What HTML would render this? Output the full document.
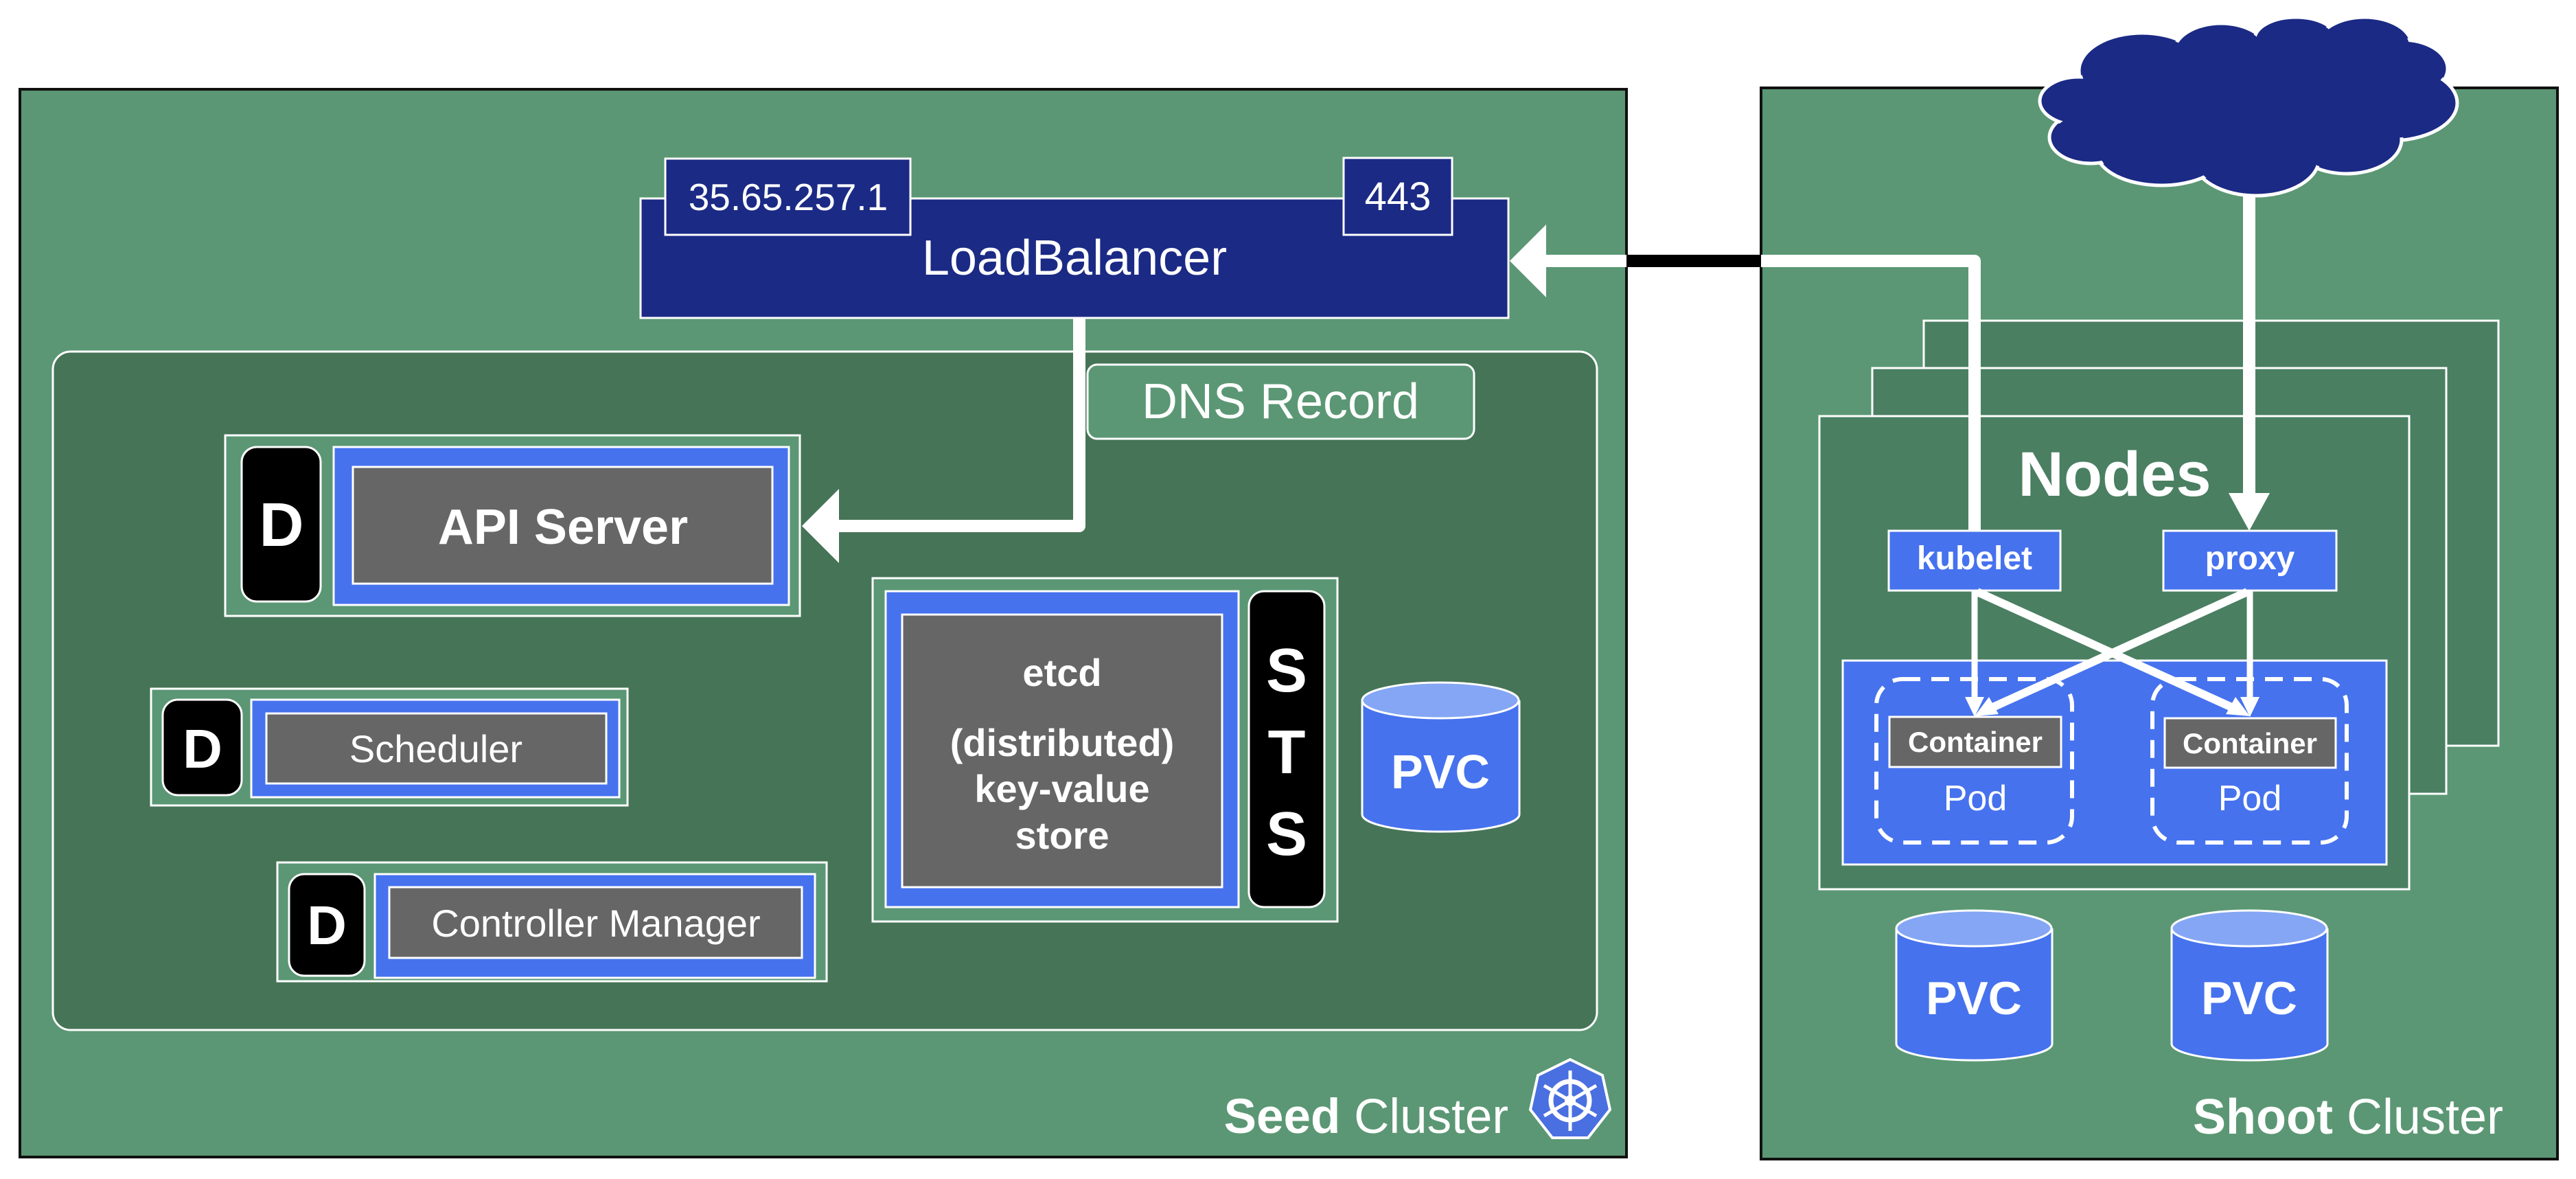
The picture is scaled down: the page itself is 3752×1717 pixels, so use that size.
<!DOCTYPE html>
<html><head><meta charset="utf-8"><style>
html,body{margin:0;padding:0;background:#fff}
svg{display:block}
text{font-family:"Liberation Sans",Arial,sans-serif;fill:#fff}
</style></head><body>
<svg width="3752" height="1717" viewBox="0 0 3752 1717" xmlns="http://www.w3.org/2000/svg">
<!-- Seed cluster -->
<rect x="29" y="130" width="2340" height="1555" fill="#5b9774" stroke="#111" stroke-width="4"/>
<!-- inner -->
<rect x="77" y="512" width="2249" height="988" rx="26" fill="#467457" stroke="#fff" stroke-width="3"/>
<!-- LB -->
<rect x="933" y="289" width="1264" height="174" fill="#1b2a84" stroke="#fff" stroke-width="3"/>
<rect x="969" y="231" width="357" height="111" fill="#1b2a84" stroke="#fff" stroke-width="3"/>
<rect x="1957" y="230" width="158" height="112" fill="#1b2a84" stroke="#fff" stroke-width="3"/>
<text x="1148" y="306" font-size="55" text-anchor="middle">35.65.257.1</text>
<text x="2036" y="306" font-size="58" text-anchor="middle">443</text>
<text x="1565" y="400" font-size="72" text-anchor="middle">LoadBalancer</text>
<!-- DNS -->
<rect x="1584" y="531" width="563" height="108" rx="14" fill="#5b9774" stroke="#fff" stroke-width="3"/>
<text x="1865" y="609" font-size="72" text-anchor="middle">DNS Record</text>
<!-- LB -> API line -->
<polyline points="1572,463 1572,766 1215,766" fill="none" stroke="#fff" stroke-width="18" stroke-linejoin="round"/>
<polygon points="1168,766 1222,712 1222,820" fill="#fff"/>
<!-- API Server -->
<rect x="328" y="634" width="837" height="263" fill="#5b9774" stroke="#fff" stroke-width="3"/>
<rect x="352" y="651" width="115" height="225" rx="22" fill="#000" stroke="#fff" stroke-width="3"/>
<text x="410" y="795" font-size="90" font-weight="bold" text-anchor="middle">D</text>
<rect x="486" y="651" width="663" height="230" fill="#4672ee" stroke="#fff" stroke-width="3"/>
<rect x="514" y="680" width="611" height="170" fill="#666" stroke="#fff" stroke-width="3"/>
<text x="820" y="792" font-size="72" font-weight="bold" text-anchor="middle">API Server</text>
<!-- Scheduler -->
<rect x="220" y="1003" width="694" height="170" fill="#5b9774" stroke="#fff" stroke-width="3"/>
<rect x="237" y="1019" width="115" height="139" rx="22" fill="#000" stroke="#fff" stroke-width="3"/>
<text x="295" y="1118" font-size="80" font-weight="bold" text-anchor="middle">D</text>
<rect x="366" y="1019" width="536" height="142" fill="#4672ee" stroke="#fff" stroke-width="3"/>
<rect x="388" y="1039" width="495" height="102" fill="#666" stroke="#fff" stroke-width="3"/>
<text x="635" y="1110" font-size="56" text-anchor="middle">Scheduler</text>
<!-- Controller Manager -->
<rect x="404" y="1256" width="800" height="173" fill="#5b9774" stroke="#fff" stroke-width="3"/>
<rect x="421" y="1273" width="110" height="148" rx="22" fill="#000" stroke="#fff" stroke-width="3"/>
<text x="476" y="1375" font-size="80" font-weight="bold" text-anchor="middle">D</text>
<rect x="546" y="1273" width="641" height="151" fill="#4672ee" stroke="#fff" stroke-width="3"/>
<rect x="567" y="1292" width="601" height="103" fill="#666" stroke="#fff" stroke-width="3"/>
<text x="868" y="1364" font-size="56" text-anchor="middle">Controller Manager</text>
<!-- etcd -->
<rect x="1271" y="842" width="677" height="500" fill="#5b9774" stroke="#fff" stroke-width="3"/>
<rect x="1290" y="861" width="514" height="460" fill="#4672ee" stroke="#fff" stroke-width="3"/>
<rect x="1314" y="895" width="466" height="397" fill="#666" stroke="#fff" stroke-width="3"/>
<g font-size="56" font-weight="bold" text-anchor="middle">
<text x="1547" y="999">etcd</text>
<text x="1547" y="1101">(distributed)</text>
<text x="1547" y="1168">key-value</text>
<text x="1547" y="1236">store</text>
</g>
<rect x="1819" y="861" width="110" height="460" rx="22" fill="#000" stroke="#fff" stroke-width="3"/>
<g font-size="90" font-weight="bold" text-anchor="middle">
<text x="1874" y="1007">S</text>
<text x="1874" y="1126">T</text>
<text x="1874" y="1245">S</text>
</g>
<!-- seed PVC -->
<path d="M1984,1020 V1186 A114,25 0 0 0 2213,1186 V1020" fill="#4672ee" stroke="#fff" stroke-width="3"/>
<ellipse cx="2098" cy="1020" rx="114" ry="26" fill="#84a6f4" stroke="#fff" stroke-width="3"/>
<text x="2098" y="1148" font-size="70" font-weight="bold" text-anchor="middle">PVC</text>
<!-- Seed Cluster label -->
<text x="2197" y="1650" font-size="71" text-anchor="end"><tspan font-weight="bold">Seed</tspan> Cluster</text>
<g transform="translate(2287,1603)">
<polygon points="0,-60 47,-37 58,13 26,54 -26,54 -58,13 -47,-37" fill="#4a6fe0" stroke="#fff" stroke-width="4"/>
<circle r="28" fill="none" stroke="#fff" stroke-width="7"/>
<g stroke="#fff" stroke-width="5">
<line x1="0" y1="-44" x2="0" y2="44"/><line x1="-38" y1="-22" x2="38" y2="22"/><line x1="-38" y1="22" x2="38" y2="-22"/>
</g>
<circle r="8" fill="#fff"/>
</g>

<!-- Shoot cluster -->
<rect x="2565" y="128" width="1160" height="1560" fill="#5b9774" stroke="#111" stroke-width="4"/>
<!-- connector LB <- kubelet -->
<line x1="2369" y1="380" x2="2565" y2="380" stroke="#000" stroke-width="18"/>
<polyline points="2565,380 2876,380 2876,773" fill="none" stroke="#fff" stroke-width="18" stroke-linejoin="round"/>
<line x1="2245" y1="380" x2="2369" y2="380" stroke="#fff" stroke-width="18"/>
<polygon points="2199,380 2252,327 2252,433" fill="#fff"/>
<!-- node stacks -->
<rect x="2802" y="467" width="837" height="619" fill="#4a7f62" stroke="#fff" stroke-width="3"/>
<rect x="2727" y="536" width="836" height="620" fill="#4a7f62" stroke="#fff" stroke-width="3"/>
<rect x="2650" y="606" width="859" height="689" fill="#4a7f62" stroke="#fff" stroke-width="3"/>
<line x1="2876" y1="380" x2="2876" y2="773" stroke="#fff" stroke-width="18"/>
<text x="3080" y="722" font-size="92" font-weight="bold" text-anchor="middle">Nodes</text>
<!-- pods area -->
<rect x="2684" y="962" width="792" height="297" fill="#4672ee" stroke="#fff" stroke-width="3"/>
<rect x="2733" y="989" width="285" height="238" rx="38" fill="none" stroke="#fff" stroke-width="6" stroke-dasharray="26,16"/>
<rect x="3135" y="989" width="283" height="238" rx="38" fill="none" stroke="#fff" stroke-width="6" stroke-dasharray="26,16"/>
<rect x="2752" y="1044" width="250" height="73" fill="#666" stroke="#fff" stroke-width="3"/>
<rect x="3153" y="1046" width="249" height="72" fill="#666" stroke="#fff" stroke-width="3"/>
<text x="2877" y="1095" font-size="42" font-weight="bold" text-anchor="middle">Container</text>
<text x="3277" y="1097" font-size="42" font-weight="bold" text-anchor="middle">Container</text>
<text x="2877" y="1180" font-size="52" text-anchor="middle">Pod</text>
<text x="3277" y="1180" font-size="52" text-anchor="middle">Pod</text>
<!-- kubelet / proxy -->
<rect x="2751" y="773" width="250" height="87" fill="#4672ee" stroke="#fff" stroke-width="3"/>
<rect x="3151" y="773" width="252" height="87" fill="#4672ee" stroke="#fff" stroke-width="3"/>
<text x="2876" y="829" font-size="48" font-weight="bold" text-anchor="middle">kubelet</text>
<text x="3277" y="829" font-size="48" font-weight="bold" text-anchor="middle">proxy</text>
<!-- arrows -->
<g stroke="#fff" fill="none">
<line x1="2876" y1="861" x2="2876" y2="1020" stroke-width="9"/>
<line x1="3277" y1="861" x2="3277" y2="1020" stroke-width="9"/>
<line x1="2880" y1="862" x2="3255" y2="1032" stroke-width="12"/>
<line x1="3273" y1="862" x2="2898" y2="1032" stroke-width="12"/>
</g>
<g fill="#fff">
<polygon points="2876,1044 2862,1015 2890,1015"/>
<polygon points="3277,1044 3263,1015 3291,1015"/>
<polygon points="3277,1043 3242,1040 3256,1015"/>
<polygon points="2876,1043 2911,1040 2897,1015"/>
</g>
<!-- proxy arrow from cloud -->
<line x1="3276" y1="280" x2="3276" y2="725" stroke="#fff" stroke-width="18"/>
<polygon points="3276,773 3246,718 3306,718" fill="#fff"/>
<!-- cloud -->
<g fill="#1b2a84" stroke="#fff" stroke-width="5">
<ellipse cx="3120" cy="103" rx="92" ry="55"/><ellipse cx="3235" cy="77" rx="69" ry="43"/>
<ellipse cx="3344" cy="57" rx="60" ry="32"/><ellipse cx="3444" cy="67" rx="69" ry="42"/>
<ellipse cx="3499" cy="100" rx="66" ry="42"/><ellipse cx="3481" cy="150" rx="98" ry="55"/>
<ellipse cx="3418" cy="203" rx="80" ry="50"/><ellipse cx="3286" cy="230" rx="92" ry="55"/>
<ellipse cx="3148" cy="220" rx="95" ry="50"/><ellipse cx="3045" cy="200" rx="60" ry="38"/>
<ellipse cx="3028" cy="147" rx="57" ry="35"/>
</g>
<g fill="#1b2a84">
<ellipse cx="3120" cy="103" rx="88" ry="51"/><ellipse cx="3235" cy="77" rx="65" ry="39"/>
<ellipse cx="3344" cy="57" rx="56" ry="28"/><ellipse cx="3444" cy="67" rx="65" ry="38"/>
<ellipse cx="3499" cy="100" rx="62" ry="38"/><ellipse cx="3481" cy="150" rx="94" ry="51"/>
<ellipse cx="3418" cy="203" rx="76" ry="46"/><ellipse cx="3286" cy="230" rx="88" ry="51"/>
<ellipse cx="3148" cy="220" rx="91" ry="46"/><ellipse cx="3045" cy="200" rx="56" ry="34"/>
<ellipse cx="3028" cy="147" rx="53" ry="31"/>
<ellipse cx="3270" cy="150" rx="220" ry="90"/>
</g>
<!-- shoot PVCs -->
<path d="M2762,1352 V1520 A113,24 0 0 0 2989,1520 V1352" fill="#4672ee" stroke="#fff" stroke-width="3"/>
<ellipse cx="2875" cy="1352" rx="113" ry="26" fill="#84a6f4" stroke="#fff" stroke-width="3"/>
<text x="2875" y="1477" font-size="68" font-weight="bold" text-anchor="middle">PVC</text>
<path d="M3163,1352 V1520 A113,24 0 0 0 3390,1520 V1352" fill="#4672ee" stroke="#fff" stroke-width="3"/>
<ellipse cx="3276" cy="1352" rx="113" ry="26" fill="#84a6f4" stroke="#fff" stroke-width="3"/>
<text x="3276" y="1477" font-size="68" font-weight="bold" text-anchor="middle">PVC</text>
<text x="3646" y="1651" font-size="72" text-anchor="end"><tspan font-weight="bold">Shoot</tspan> Cluster</text>
</svg>
</body></html>
